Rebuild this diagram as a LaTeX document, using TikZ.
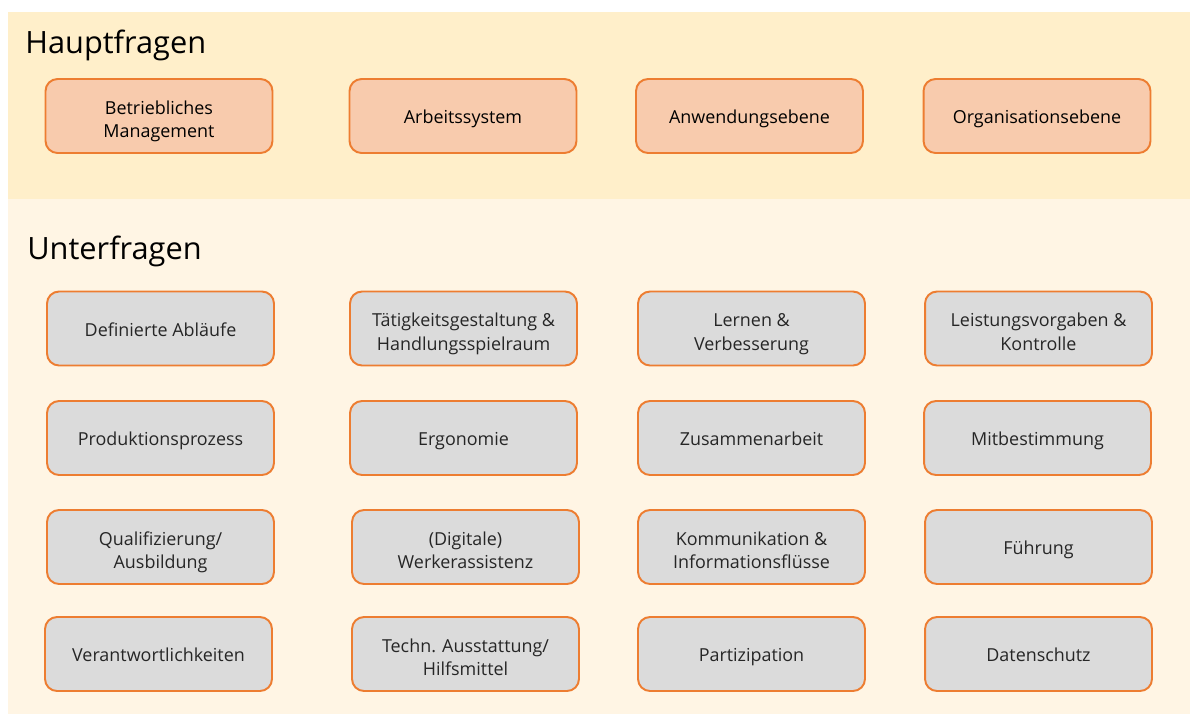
\documentclass[tikz,border=0pt]{standalone}
\usepackage{fontspec}
\setmainfont{Open Sans}
\usetikzlibrary{positioning}
\definecolor{bandtop}{HTML}{FFEFCA}
\definecolor{bandbottom}{HTML}{FFF5E4}
\definecolor{mainfill}{HTML}{F8CBAD}
\definecolor{subfill}{HTML}{DBDBDB}
\definecolor{boxline}{HTML}{ED7D31}
\definecolor{subtext}{HTML}{262626}
\newcommand{\topline}{\rule{0pt}{15.5pt}}

\begin{document}
\begin{tikzpicture}[
    x=0.02cm, y=-0.02cm,
    question/.style={rectangle, draw=boxline, line width=1.1pt, rounded corners=0.24cm,
        minimum width=4.54cm, minimum height=1.48cm, align=center,
        font=\fontsize{10.2}{13.5}\selectfont,
        execute at begin node=\rule{0pt}{12.6pt}, execute at end node=\strut},
    mainq/.style={question, fill=mainfill},
    subq/.style={question, fill=subfill, text=subtext},
    heading/.style={anchor=base west, inner sep=0pt, font=\fontsize{17.5}{20}\selectfont}
]
    \useasboundingbox (0,0) rectangle (1190,714);
    \fill[bandtop] (8,12) rectangle (1190,199);
    \fill[bandbottom] (8,199) rectangle (1190,714);

    % Hauptfragen
    \node[heading] (haupt) at (25,53) {Hauptfragen};
    \node[mainq] (management) at (159,116) {\topline Betriebliches\\Management};
    \node[mainq] (arbeitssystem) at (463,116) {Arbeitssystem};
    \node[mainq] (anwendung) at (749.5,116) {Anwendungsebene};
    \node[mainq] (organisation) at (1037,116) {Organisationsebene};

    % Unterfragen
    \node[heading] (unter) at (27,259) {Unterfragen};

    \node[subq] (ablaeufe) at (160.5,328.5) {Definierte Abläufe};
    \node[subq] (taetigkeit) at (463.5,328.5) {\topline Tätigkeitsgestaltung \&\\Handlungsspielraum};
    \node[subq] (lernen) at (751.5,328.5) {\topline Lernen \&\\Verbesserung};
    \node[subq] (leistung) at (1038.5,328.5) {\topline Leistungsvorgaben \&\\Kontrolle};

    \node[subq] (produktion) at (160.5,438) {Produktionsprozess};
    \node[subq] (ergonomie) at (463.5,438) {Ergonomie};
    \node[subq] (zusammen) at (751.5,438) {Zusammenarbeit};
    \node[subq] (mitbest) at (1037.5,438) {Mitbestimmung};

    \node[subq] (quali) at (160.5,547) {\topline Qualifizierung/\\Ausbildung};
    \node[subq] (werker) at (465.5,547) {\topline (Digitale)\\Werkerassistenz};
    \node[subq] (kommunikation) at (751.5,547) {\topline Kommunikation \&\\Informationsflüsse};
    \node[subq] (fuehrung) at (1038.5,547) {Führung};

    \node[subq] (verantwortung) at (158.5,654) {Verantwortlichkeiten};
    \node[subq] (ausstattung) at (465.5,654) {\topline Techn. Ausstattung/\\Hilfsmittel};
    \node[subq] (partizipation) at (751.5,654) {Partizipation};
    \node[subq] (datenschutz) at (1038.5,654) {Datenschutz};
\end{tikzpicture}
\end{document}
